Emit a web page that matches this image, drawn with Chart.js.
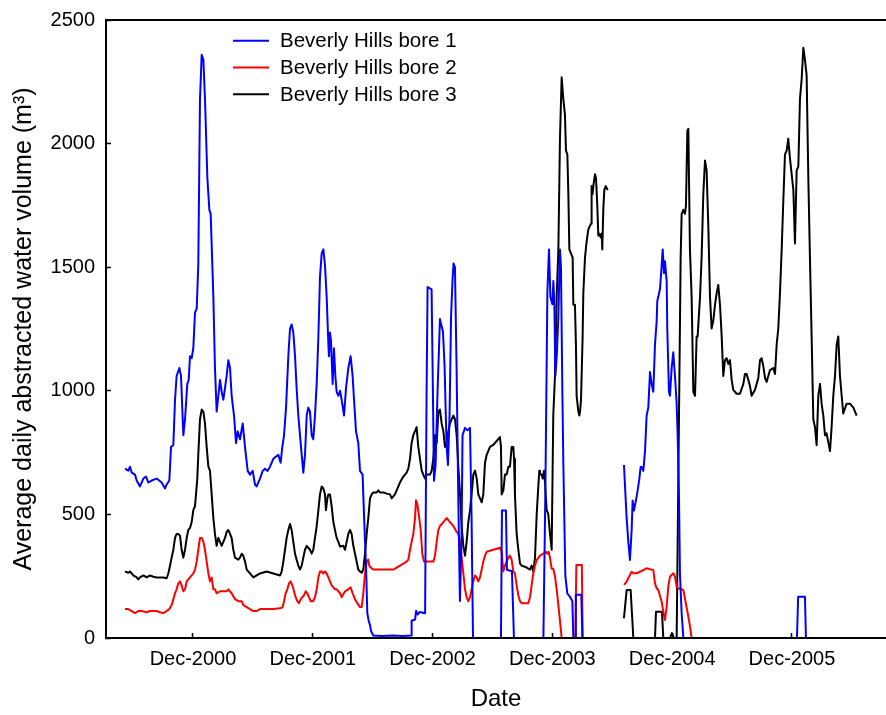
<!DOCTYPE html>
<html>
<head>
<meta charset="utf-8">
<script src="https://cdn.jsdelivr.net/npm/chart.js@4.4.1/dist/chart.umd.min.js"></script>
<style>
  html, body { margin: 0; padding: 0; background: #ffffff; }
  canvas { display: block; }
</style>
</head>
<body>
<canvas id="chart" width="886" height="715"></canvas>
<script>
// Time axis: months counted from January 2000 (so December 2000 = 11).
const tickMonths = [11, 23, 35, 47, 59, 71];
const tickLabels = ['Dec-2000', 'Dec-2001', 'Dec-2002', 'Dec-2003', 'Dec-2004', 'Dec-2005'];
const seriesNames = ['Beverly Hills bore 1', 'Beverly Hills bore 2', 'Beverly Hills bore 3'];
const seriesColors = ['#0000ff', '#ff0000', '#000000'];

// Bore 1 – average daily abstracted volume (m3)
const bore1Month = [4.19,4.52,4.69,4.86,5.19,5.36,5.69,6.03,6.29,6.53,6.86,7.36,7.86,8.20,8.36,8.63,8.80,9.03,9.20,9.36,9.63,9.80,10.03,10.20,10.43,10.57,10.70,10.87,11.03,11.20,11.37,11.53,11.70,11.87,12.04,12.20,12.44,12.64,12.77,13.04,13.20,13.37,13.54,13.71,13.87,14.04,14.21,14.37,14.54,14.71,14.87,15.11,15.31,15.47,15.71,15.98,16.21,16.48,16.71,16.98,17.21,17.38,17.71,17.98,18.21,18.48,18.71,19.05,19.28,19.55,19.78,19.95,20.12,20.32,20.55,20.72,20.88,21.05,21.22,21.38,21.55,21.72,21.89,22.05,22.22,22.39,22.55,22.72,22.89,23.05,23.22,23.39,23.56,23.72,23.89,24.06,24.22,24.39,24.56,24.62,24.72,24.82,24.99,25.12,25.26,25.39,25.56,25.73,25.89,26.13,26.33,26.56,26.79,26.99,27.13,27.33,27.56,27.73,27.99,28.13,28.33,28.46,28.60,28.73,28.83,29.06,30.0,31.0,32.0,32.84,32.90,33.25,33.35,33.5,33.7,34.25,34.4,34.5,34.9,35.0,35.14,35.3,35.5,35.74,35.85,36.04,36.2,36.4,36.54,36.7,36.85,37.0,37.1,37.24,37.4,37.6,37.74,37.9,38.0,38.25,38.5,38.75,38.9,39.05,41.85,41.95,42.35,42.45,42.95,43.15,46.1,46.3,46.5,46.66,46.8,47.0,47.1,47.2,47.3,47.45,47.6,47.76,47.86,48.0,48.1,48.3,48.5,48.8,49.0,49.1,49.3,49.35,49.9,50.0,52.5,53.3,54.17,54.44,54.61,54.77,54.94,55.04,55.17,55.37,55.54,55.71,55.84,55.94,56.11,56.28,56.44,56.61,56.78,56.94,57.11,57.28,57.45,57.51,57.61,57.78,57.95,58.05,58.18,58.28,58.45,58.51,58.68,58.78,58.95,59.11,59.28,59.45,59.55,59.68,59.78,59.95,60.12,71.5,71.62,72.3,72.4,77.5];
const bore1Vol = [685,677,693,669,661,637,613,645,653,629,637,645,629,605,621,637,773,781,964,1060,1092,1060,820,884,1028,1044,1140,1132,1172,1316,1332,1508,2180,2359,2340,2180,1860,1732,1716,1380,1092,916,980,1044,996,964,1012,1060,1124,1092,980,900,788,836,804,868,772,676,661,676,621,613,645,676,685,676,693,725,733,741,709,773,820,932,1140,1252,1268,1236,1140,1012,900,820,741,669,741,900,932,916,820,804,900,1028,1220,1460,1556,1572,1508,1380,1188,1140,1236,1204,1028,1172,1060,996,980,1000,964,900,1012,1092,1140,1060,964,836,788,676,661,500,293,101,69,53,29,10,8,10,8,10,70,75,110,95,105,100,1000,1420,1410,1100,636,700,1000,1290,1270,1240,1100,780,700,900,1300,1450,1515,1500,1100,500,150,400,820,850,840,850,500,0,0,516,516,276,270,0,0,600,1400,1572,1380,1350,1444,1350,1060,1150,1300,1572,1500,1000,700,250,180,164,150,0,0,175,175,0,0,null,700,484,388,316,436,556,516,556,596,644,692,692,676,756,900,932,1076,1028,996,1188,1284,1364,1380,1412,1508,1572,1476,1524,1444,1252,996,980,1092,1156,1060,948,820,580,260,100,0,0,167,167,0,0];

// Bore 2 – average daily abstracted volume (m3)
const bore2Month = [4.19,4.52,4.86,5.19,5.52,5.86,6.36,6.69,7.03,7.36,7.69,8.03,8.36,8.63,8.86,9.03,9.20,9.36,9.53,9.70,9.86,10.03,10.20,10.37,10.53,10.70,11.03,11.20,11.37,11.53,11.70,11.87,12.04,12.20,12.37,12.54,12.70,12.87,13.04,13.20,13.37,13.71,14.04,14.37,14.54,14.87,15.21,15.54,15.88,16.04,16.38,16.71,17.04,17.38,17.71,18.38,19.05,19.72,19.98,20.12,20.28,20.45,20.62,20.78,20.95,21.12,21.28,21.45,21.62,21.79,21.95,22.12,22.29,22.45,22.62,22.79,23.05,23.22,23.39,23.56,23.72,23.89,24.06,24.22,24.39,24.56,24.72,24.89,25.06,25.22,25.39,25.73,25.89,26.23,26.56,26.79,26.99,27.23,27.46,27.73,27.90,28.06,28.23,28.40,28.56,28.66,28.80,29.06,29.73,30.40,31.07,31.40,31.73,32.07,32.40,32.57,32.74,32.90,33.07,33.24,33.34,33.47,33.64,33.81,33.97,34.14,34.74,35.08,35.24,35.41,35.58,35.74,36.08,36.41,36.74,37.08,37.41,37.58,37.75,37.91,38.08,38.25,38.41,38.58,38.75,38.91,39.08,39.25,39.42,39.58,39.75,39.92,40.08,40.25,40.42,41.08,41.75,41.92,42.09,42.25,42.42,42.59,42.75,42.92,43.09,43.25,43.42,43.59,43.76,43.92,44.59,44.76,44.92,45.09,45.26,45.43,45.76,46.09,46.36,46.49,46.63,46.76,46.93,47.09,47.26,47.43,47.60,47.76,47.93,49.3,49.4,49.95,50.04,52.5,53.3,54.17,54.44,54.77,54.94,55.11,55.44,55.78,56.11,56.44,56.78,57.11,57.28,57.44,57.61,57.95,58.11,58.28,58.45,58.61,58.78,59.12,59.28,59.45,59.62,60.12,60.28,60.62,60.79,60.95,77.5];
const bore2Vol = [117,117,109,101,109,109,104,109,109,109,104,101,109,117,133,157,181,197,221,229,213,189,197,229,237,245,261,277,309,357,405,405,389,357,309,261,229,245,197,197,181,189,189,189,197,181,157,149,149,133,125,117,109,109,117,117,117,120,125,149,181,197,221,229,213,189,165,149,141,157,165,173,189,181,165,149,149,165,197,245,269,269,261,269,261,245,229,213,205,197,197,181,165,189,197,205,181,157,141,125,125,181,261,309,317,293,285,277,277,277,277,285,293,301,309,317,357,389,421,485,557,541,493,437,341,309,309,309,333,389,437,453,469,485,469,453,429,421,389,325,261,197,165,149,165,197,229,253,245,229,245,277,309,333,349,357,365,349,269,293,309,325,333,317,269,261,213,173,149,141,141,165,213,261,293,315,333,341,349,341,349,325,280,280,250,197,133,69,0,0,295,295,0,0,null,215,228,255,268,262,262,268,275,282,278,275,221,201,194,147,106,73,127,208,248,262,248,208,201,194,160,86,46,0,0];

// Bore 3 – average daily abstracted volume (m3)
const bore3Month = [4.19,4.52,4.69,4.86,5.02,5.36,5.52,5.69,6.03,6.36,6.69,7.03,7.36,8.03,8.36,8.53,8.70,8.86,9.03,9.20,9.36,9.53,9.70,9.86,10.03,10.20,10.37,10.53,10.70,10.87,11.03,11.20,11.30,11.43,11.53,11.70,11.87,12.04,12.20,12.37,12.54,12.70,12.87,13.04,13.20,13.37,13.54,13.71,13.87,14.04,14.21,14.37,14.54,14.71,14.87,15.04,15.21,15.54,15.71,15.88,16.04,16.21,16.38,16.71,17.04,17.38,17.71,18.38,19.05,19.72,19.88,20.05,20.22,20.38,20.55,20.72,20.88,21.05,21.22,21.38,21.55,21.72,21.89,22.05,22.22,22.39,22.55,22.72,22.89,23.05,23.22,23.39,23.56,23.72,23.89,24.06,24.22,24.32,24.46,24.56,24.72,24.89,25.06,25.22,25.39,25.56,25.73,26.06,26.23,26.39,26.56,26.73,26.89,27.06,27.23,27.39,27.56,27.73,27.90,28.06,28.23,28.40,28.56,28.73,28.90,29.06,29.40,29.57,29.73,30.07,30.40,30.73,30.90,31.23,31.40,31.73,32.07,32.40,32.57,32.74,32.90,33.07,33.24,33.40,33.57,33.74,33.91,34.07,34.24,34.41,34.74,34.91,35.07,35.17,35.24,35.41,35.58,35.74,35.91,36.08,36.24,36.41,36.58,36.74,36.91,37.08,37.25,37.41,37.58,37.75,37.91,38.08,38.25,38.41,38.58,38.75,38.91,39.08,39.25,39.42,39.58,39.75,39.92,40.08,40.25,40.42,40.75,41.08,41.42,41.75,41.85,41.92,42.09,42.25,42.42,42.59,42.75,42.92,43.09,43.16,43.25,43.42,43.59,43.76,43.92,44.42,44.76,44.92,45.09,45.26,45.43,45.59,45.69,45.76,45.93,46.03,46.16,46.26,46.43,46.59,46.76,46.93,47.09,47.26,47.43,47.60,47.76,47.93,48.10,48.26,48.36,48.50,48.60,48.70,48.86,49.03,49.10,49.26,49.36,49.43,49.60,49.70,49.77,49.87,50.03,50.10,50.27,50.43,50.60,50.77,50.87,50.93,51.03,51.10,51.27,51.37,51.50,51.60,51.70,51.84,51.94,52.00,52.10,52.20,52.34,52.54,53.3,54.17,54.44,54.84,55.11,57.28,57.38,57.98,58.11,58.78,58.98,59.18,59.45,59.85,59.95,60.12,60.28,60.38,60.52,60.62,60.78,60.95,61.12,61.29,61.45,61.55,61.79,61.95,62.12,62.29,62.45,62.62,62.79,62.95,63.12,63.29,63.46,63.62,63.79,63.96,64.12,64.29,64.46,64.62,64.79,64.96,65.12,65.46,65.79,66.13,66.29,66.46,66.79,66.96,67.30,67.63,67.80,67.96,68.13,68.30,68.46,68.80,69.13,69.30,69.47,69.63,69.80,69.97,70.13,70.30,70.47,70.63,70.80,70.97,71.14,71.30,71.47,71.64,71.80,71.97,72.14,72.30,72.47,72.64,72.80,72.97,73.14,73.31,73.47,73.64,73.81,73.97,74.14,74.31,74.47,74.81,74.97,75.14,75.31,75.48,75.64,75.81,75.98,76.14,76.48,76.81,77.15,77.48];
const bore3Vol = [269,264,269,261,253,245,237,245,253,245,253,248,245,245,242,261,293,325,357,405,421,421,413,357,325,357,405,437,445,469,517,533,581,645,741,885,924,916,868,773,693,677,581,485,421,373,405,389,373,389,405,429,437,421,405,357,325,317,325,341,333,309,277,261,245,253,261,269,261,253,269,309,357,405,437,461,437,389,341,317,293,277,293,325,357,373,365,357,341,357,405,453,517,581,613,605,581,517,565,581,581,533,469,437,405,389,370,373,357,389,421,437,421,373,341,309,277,269,264,277,341,421,485,565,581,589,589,597,589,589,584,581,565,581,597,629,653,669,685,725,789,821,837,853,773,725,677,661,645,661,661,677,725,773,821,789,916,924,868,836,773,789,836,868,884,900,884,821,693,581,453,373,333,389,469,517,581,661,677,645,581,565,549,581,709,741,773,781,797,813,773,581,597,661,661,693,693,773,773,725,581,421,357,301,293,285,277,293,269,325,501,613,677,661,661,645,677,629,517,501,421,357,900,1060,1380,1572,2020,2268,2180,2116,1972,1956,1796,1572,1556,1540,1348,1348,1188,980,916,900,916,964,1220,1396,1540,1604,1652,1668,1676,1828,1796,1828,1876,1860,1748,1628,1636,1620,1636,1572,1732,1812,1828,1812,null,80,194,194,0,0,106,106,0,0,20,0,0,1540,1716,1732,1716,1748,2052,2060,1572,1380,996,980,1220,1220,1380,1540,1796,1932,1892,1668,1380,1252,1284,1348,1396,1428,1348,1220,1060,1124,1132,1108,1124,1044,1004,988,988,1028,1068,1068,1020,980,1004,1052,1124,1132,1100,1052,1036,1084,1092,1068,1188,1252,1396,1572,1764,1956,1972,2020,1940,1876,1812,1596,1892,1908,2180,2260,2388,2340,2276,1860,1540,1220,884,852,780,980,1028,948,900,820,828,756,852,980,1060,1188,1220,1060,980,908,948,948,932,900];

const FONT = "'Liberation Sans', Arial, Helvetica, sans-serif";

function toPoints(months, vols) {
  return months.map((m, i) => ({ x: m, y: vols[i] }));
}

// Legend drawn inside the plot, below the top frame line
const insideLegend = {
  id: 'insideLegend',
  afterDatasetsDraw(chart) {
    const { ctx, chartArea } = chart;
    ctx.save();
    ctx.font = '20.5px ' + FONT;
    ctx.textBaseline = 'middle';
    ctx.textAlign = 'left';
    chart.data.datasets.forEach((ds, i) => {
      const y = chartArea.top + 20.7 + i * 26.8;
      ctx.strokeStyle = ds.borderColor;
      ctx.lineWidth = 2;
      ctx.beginPath();
      ctx.moveTo(chartArea.left + 127, y);
      ctx.lineTo(chartArea.left + 163, y);
      ctx.stroke();
      ctx.fillStyle = '#000';
      ctx.fillText(ds.label, chartArea.left + 174, y + 1);
    });
    ctx.restore();
  }
};

// Top frame line across the plot
const topFrame = {
  id: 'topFrame',
  afterDraw(chart) {
    const { ctx, chartArea } = chart;
    ctx.save();
    ctx.strokeStyle = '#000';
    ctx.lineWidth = 2;
    ctx.beginPath();
    ctx.moveTo(chartArea.left - 1, chartArea.top);
    ctx.lineTo(chart.width, chartArea.top);
    ctx.stroke();
    ctx.restore();
  }
};

Chart.defaults.font.family = FONT;
Chart.defaults.color = '#000';

const monthSeries = [bore1Month, bore2Month, bore3Month];
const volSeries = [bore1Vol, bore2Vol, bore3Vol];

new Chart(document.getElementById('chart'), {
  type: 'line',
  data: {
    datasets: seriesNames.map((name, i) => ({
      label: name,
      data: toPoints(monthSeries[i], volSeries[i]),
      borderColor: seriesColors[i],
      backgroundColor: seriesColors[i],
      borderWidth: 2,
      pointRadius: 0,
      tension: 0,
      fill: false,
      spanGaps: false,
      borderJoinStyle: 'round'
    }))
  },
  options: {
    responsive: false,
    animation: false,
    events: [],
    layout: { padding: { top: 20, right: 0, left: 0, bottom: 0 } },
    plugins: { legend: { display: false }, tooltip: { enabled: false } },
    scales: {
      x: {
        type: 'linear',
        min: 2.285,
        max: 80.42,
        afterBuildTicks(scale) {
          scale.ticks = tickMonths.map(v => ({ value: v }));
        },
        afterFit(scale) {
          scale.height = 77;
          scale.paddingLeft = 0;
          scale.paddingRight = 0;
        },
        ticks: {
          autoSkip: false,
          maxRotation: 0,
          padding: 14,
          font: { size: 20 },
          color: '#000',
          callback: (value) => tickLabels[tickMonths.indexOf(value)]
        },
        grid: { drawOnChartArea: false, tickLength: -5, tickColor: '#000', tickWidth: 1.5 },
        border: { color: '#000', width: 2, z: 1 },
        title: { display: true, text: 'Date', font: { size: 24 }, color: '#000', padding: { top: 0, bottom: 1 } }
      },
      y: {
        min: 0,
        max: 2500,
        afterFit(scale) {
          scale.width = 106;
          scale.paddingTop = 0;
          scale.paddingBottom = 0;
        },
        ticks: {
          stepSize: 500,
          padding: 16,
          font: { size: 20 },
          color: '#000',
          callback: (value) => String(value)
        },
        grid: { drawOnChartArea: false, tickLength: -5, tickColor: '#000', tickWidth: 1.5 },
        border: { color: '#000', width: 2, z: 1 },
        title: { display: true, text: 'Average daily abstracted water volume (m³)', font: { size: 25 }, color: '#000', padding: { top: 9, bottom: 0 } }
      }
    }
  },
  plugins: [insideLegend, topFrame]
});
</script>
</body>
</html>
